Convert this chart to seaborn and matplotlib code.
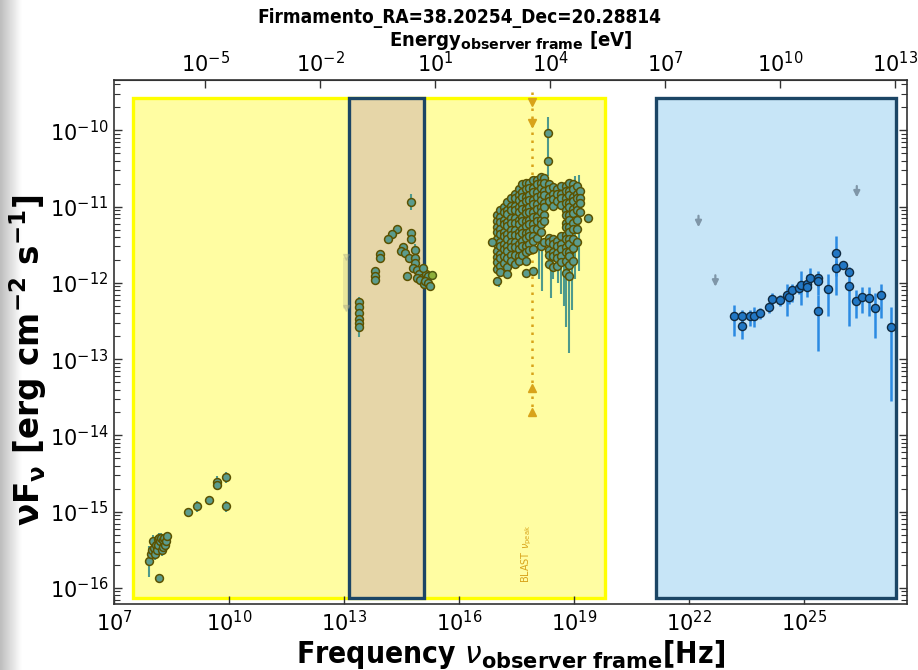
import numpy as np
import pandas as pd
import matplotlib
matplotlib.use("Agg")
import matplotlib.pyplot as plt
from matplotlib.patches import Rectangle
from matplotlib.ticker import FixedLocator, NullLocator, LogLocator, LogFormatterMathtext
import seaborn as sns

sns.set_style("ticks")
plt.rcParams["font.family"] = ["DejaVu Sans"]
plt.rcParams["mathtext.fontset"] = "dejavusans"
plt.rcParams["text.color"] = "black"
plt.rcParams["axes.labelcolor"] = "black"
plt.rcParams["xtick.color"] = "black"
plt.rcParams["ytick.color"] = "black"

H_EV = 4.135667696e-15  # Planck constant [eV s]

TITLE = "Firmamento_RA=38.20254_Dec=20.28814"

# ---------------- data (log10 frequency [Hz], log10 nuFnu [erg cm-2 s-1]) ----------------
radio_lognu = [7.92, 7.96, 8.00, 8.03, 8.05, 8.07, 8.10, 8.11, 8.14, 8.16, 8.18, 8.20, 8.23,
               8.24, 8.27, 8.29, 8.31, 8.33, 8.36, 8.37, 8.17, 8.94, 9.16, 9.48, 9.68, 9.68,
               9.92, 9.92]
radio_logflux = [-15.65, -15.55, -15.50, -15.38, -15.47, -15.55, -15.44, -15.50, -15.36,
                 -15.43, -15.35, -15.39, -15.34, -15.50, -15.46, -15.37, -15.34, -15.44,
                 -15.38, -15.32, -15.87, -15.01, -14.93, -14.85, -14.61, -14.65, -14.55,
                 -14.93]
radio_err = [0.20, 0.06, 0.05, 0.07, 0.05, 0.08, 0.05, 0.06, 0.06, 0.05, 0.07, 0.05, 0.06,
             0.08, 0.05, 0.06, 0.05, 0.07, 0.05, 0.06, 0.03, 0.04, 0.07, 0.04, 0.08, 0.06,
             0.07, 0.07]

ir_lognu = [14.74, 14.38, 14.25, 14.15, 14.74, 14.74, 13.94, 13.94, 13.81, 13.81, 13.81,
            13.40, 13.40, 13.40, 13.40, 13.40, 13.40, 14.53, 14.48, 14.60, 14.69, 14.85,
            14.85, 14.85, 14.81, 14.91, 14.97, 15.03, 14.91, 14.98, 15.09, 15.14, 15.20,
            14.65, 15.06, 15.12, 15.19, 15.24]
ir_logflux = [-10.94, -11.29, -11.36, -11.42, -11.34, -11.42, -11.62, -11.68, -11.85,
              -11.91, -11.96, -12.25, -12.32, -12.40, -12.48, -12.53, -12.58, -11.53,
              -11.58, -11.61, -11.67, -11.57, -11.67, -11.74, -11.80, -11.83, -11.88,
              -11.93, -11.93, -11.96, -12.01, -11.88, -11.91, -11.91, -11.81, -11.97,
              -12.00, -12.04]
ir_err = [0.11, 0.02, 0.02, 0.02, 0.03, 0.03, 0.03, 0.03, 0.02, 0.02, 0.02, 0.07, 0.03,
          0.03, 0.03, 0.05, 0.13, 0.03, 0.03, 0.03, 0.03, 0.08, 0.03, 0.03, 0.03, 0.03,
          0.03, 0.03, 0.03, 0.03, 0.04, 0.03, 0.03, 0.03, 0.03, 0.03, 0.04, 0.04]

uv_lognu = [15.29]
uv_logflux = [-11.90]

ir_limit_lognu = [13.05, 13.05]
ir_limit_logflux = [-11.66, -12.33]

xray_col_lognu = [16.98, 17.07, 17.17, 17.26, 17.37, 17.46, 17.56, 17.65, 17.75, 17.84,
                  17.94, 18.04, 18.13, 18.23, 18.36, 18.46, 18.57, 18.67, 18.78, 18.87,
                  18.97, 19.07, 19.17]
xray_col_logflux = [
    [-11.11, -11.19, -11.27, -11.33, -11.42, -11.49, -11.58, -11.66, -11.73, -11.82, -11.97],
    [-11.04, -11.14, -11.20, -11.30, -11.36, -11.46, -11.52, -11.62, -11.68, -11.78, -11.86],
    [-11.01, -11.07, -11.17, -11.23, -11.33, -11.39, -11.49, -11.55, -11.65, -11.74],
    [-10.94, -11.04, -11.10, -11.20, -11.26, -11.36, -11.42, -11.52, -11.58, -11.68, -11.79, -11.89],
    [-10.89, -10.99, -11.05, -11.15, -11.21, -11.31, -11.37, -11.47, -11.53, -11.63, -11.71],
    [-10.83, -10.89, -10.99, -11.05, -11.15, -11.21, -11.31, -11.37, -11.47, -11.53, -11.63, -11.75],
    [-10.77, -10.85, -10.91, -11.01, -11.07, -11.17, -11.23, -11.33, -11.39, -11.49, -11.55, -11.65, -11.71],
    [-10.71, -10.81, -10.87, -10.97, -11.03, -11.13, -11.19, -11.29, -11.35, -11.45, -11.51, -11.63],
    [-10.69, -10.77, -10.87, -10.93, -11.03, -11.09, -11.19, -11.25, -11.35, -11.41, -11.51, -11.59, -11.71, -11.87],
    [-10.69, -10.75, -10.85, -10.91, -11.01, -11.07, -11.17, -11.23, -11.33, -11.39, -11.49, -11.57],
    [-10.65, -10.75, -10.81, -10.91, -10.97, -11.07, -11.13, -11.23, -11.29, -11.39, -11.45, -11.56, -11.84],
    [-10.65, -10.71, -10.81, -10.87, -10.97, -11.03, -11.13, -11.19, -11.29, -11.41],
    [-10.61, -10.69, -10.75, -10.85, -10.91, -11.01, -11.07, -11.17, -11.23, -11.33, -11.51],
    [-10.63, -10.69, -10.79, -10.85, -10.95, -11.01, -11.11, -11.19, -11.46],
    [-10.71, -10.77, -10.87, -10.93, -11.41, -11.47, -11.57, -11.63, -11.75],
    [-10.74, -10.84, -10.90, -10.99, -11.43, -11.49, -11.59, -11.65, -11.79],
    [-10.77, -10.83, -10.93, -11.45, -11.51, -11.61, -11.67, -11.78],
    [-10.73, -10.83, -10.89, -10.98, -11.39, -11.49, -11.55, -11.65, -11.73],
    [-10.73, -10.79, -10.89, -10.95, -11.05, -11.11, -11.21, -11.27, -11.37, -11.43, -11.53, -11.59, -11.71, -11.87],
    [-10.69, -10.79, -10.85, -10.95, -11.01, -11.11, -11.17, -11.27, -11.33, -11.43, -11.49, -11.59, -11.65, -11.77, -11.91],
    [-10.71, -10.77, -10.87, -10.93, -11.03, -11.09, -11.21, -11.29, -11.43, -11.54, -11.71],
    [-10.73, -10.83, -10.89, -10.99, -11.05, -11.17, -11.29, -11.46],
    [-10.79, -10.89, -10.95, -11.07],
]
xray_extra_lognu = [16.85, 19.37, 18.33, 18.33]
xray_extra_logflux = [-11.47, -11.15, -10.04, -10.40]

# vertical uncertainty ranges of the X-ray spectra
xray_bar_lognu = [18.17, 18.33, 18.40, 18.45, 18.58, 18.65, 18.75, 18.80, 18.87, 18.95,
                  19.02, 19.12, 17.05, 18.10]
xray_bar_top = [-11.53, -9.82, -11.60, -11.60, -11.70, -11.70, -11.70, -11.75, -11.60,
                -11.60, -10.60, -10.58, -11.90, -11.40]
xray_bar_bottom = [-12.11, -10.60, -12.20, -11.95, -12.00, -12.15, -12.30, -12.58, -12.92,
                   -12.36, -11.95, -11.85, -12.05, -11.95]

gamma_lognu = [23.17, 23.38, 23.38, 23.60, 23.69, 23.86, 24.08, 24.17, 24.38, 24.56, 24.62,
               24.69, 24.86, 24.93, 25.08, 25.08, 25.17, 25.38, 25.38, 25.38, 25.62, 25.85,
               25.85, 26.02, 26.18, 26.18, 26.36, 26.51, 26.69, 26.85, 27.02, 27.27]
gamma_logflux = [-12.44, -12.43, -12.56, -12.44, -12.43, -12.39, -12.32, -12.21, -12.22,
                 -12.16, -12.18, -12.09, -12.07, -12.03, -12.02, -12.06, -11.93, -11.93,
                 -11.97, -12.37, -12.08, -11.61, -11.80, -11.76, -11.86, -12.04, -12.24,
                 -12.19, -12.20, -12.33, -12.16, -12.58]
gamma_logflux_lo = [-12.69, -12.51, -12.74, -12.57, -12.58, -12.47, -12.40, -12.30, -12.30,
                    -12.44, -12.28, -12.25, -12.15, -12.29, -12.19, -12.12, -12.05, -12.16,
                    -12.05, -12.89, -12.44, -12.16, -11.91, -11.82, -12.57, -12.10, -12.46,
                    -12.39, -12.44, -12.72, -12.46, -13.55]
gamma_logflux_hi = [-12.29, -12.36, -12.44, -12.36, -12.32, -12.33, -12.25, -12.13, -12.16,
                    -12.01, -12.10, -12.01, -12.00, -11.85, -11.90, -12.00, -11.80, -11.85,
                    -11.90, -12.16, -11.89, -11.38, -11.70, -11.71, -11.79, -11.98, -12.09,
                    -12.06, -12.06, -12.13, -12.01, -12.31]

gamma_limit_lognu = [22.25, 22.69, 26.38]
gamma_limit_logflux = [-11.12, -11.90, -10.73]

blast_peak_lognu = 17.90
blast_upper_logflux = [-9.63, -9.91]
blast_lower_logflux = [-13.38, -13.69]
blast_line_logflux = [-9.50, -13.80]

# shaded bands (log10 frequency edges)
band_logflux = [-16.13, -9.57]
band_lowenergy_lognu = [7.50, 19.82]
band_optical_lognu = [13.12, 15.10]
band_gamma_lognu = [21.13, 27.41]

xtick_exp = [7, 10, 13, 16, 19, 22, 25]
energy_tick_exp = [-5, -2, 1, 4, 7, 10, 13]
ytick_exp = [-16, -15, -14, -13, -12, -11, -10]

# ---------------- figure ----------------
fig = plt.figure(figsize=(9.18, 6.70), dpi=100)
fig.patch.set_facecolor("white")

# soft grey shade at the left border
strip = fig.add_axes([0, 0, 22 / 918, 1], zorder=-5)
shade = np.linspace(0.74, 1.0, 64)[None, :]
strip.imshow(np.repeat(shade, 2, axis=0), cmap="gray", vmin=0, vmax=1, aspect="auto")
strip.axis("off")

ax = fig.add_axes([114 / 918, 66 / 670, 793 / 918, 524 / 670])
ax.set_xscale("log")
ax.set_yscale("log")
ax.set_xlim(1e7, 10 ** 27.69)
ax.set_ylim(10 ** -16.21, 10 ** -9.34)


def p10(v):
    return np.power(10.0, np.asarray(v, dtype=float))


def band(lognu, face, edge, z):
    x0, x1 = p10(lognu)
    y0, y1 = p10(band_logflux)
    ax.add_patch(Rectangle((x0, y0), x1 - x0, y1 - y0, facecolor=face, edgecolor=edge,
                           linewidth=2.4, zorder=z))


band(band_lowenergy_lognu, "#fffda2", "#ffff00", 0.5)
band(band_optical_lognu, "#e6d6a8", "#1b4565", 0.6)
band(band_gamma_lognu, "#c7e5f7", "#1b4565", 0.6)

teal = "#5b9c8e"
teal_bar = "#4e9a8c"
olive = "#5c5200"

# radio
ax.errorbar(p10(radio_lognu), p10(radio_logflux),
            yerr=[p10(radio_logflux) - p10(np.subtract(radio_logflux, radio_err)),
                  p10(np.add(radio_logflux, radio_err)) - p10(radio_logflux)],
            fmt="none", ecolor=teal_bar, elinewidth=1.5, zorder=2)
# IR / optical
ax.errorbar(p10(ir_lognu), p10(ir_logflux),
            yerr=[p10(ir_logflux) - p10(np.subtract(ir_logflux, ir_err)),
                  p10(np.add(ir_logflux, ir_err)) - p10(ir_logflux)],
            fmt="none", ecolor=teal_bar, elinewidth=1.5, zorder=2)
# X-ray spectra ranges
ax.vlines(p10(xray_bar_lognu), p10(xray_bar_bottom), p10(xray_bar_top),
          colors=teal_bar, linewidth=1.5, zorder=2)

# faint upper limits behind the optical band
ax.vlines(p10(ir_limit_lognu[:1]), p10(ir_limit_logflux[1:]), p10(ir_limit_logflux[:1]),
          colors="#a8a888", linewidth=5, alpha=0.25, zorder=1.9)
ax.plot(p10(ir_limit_lognu), p10(ir_limit_logflux), "v", color="#a8a888", ms=5,
        alpha=0.35, zorder=1.9)

xray_nu, xray_flux = [], []
for nu, col in zip(xray_col_lognu, xray_col_logflux):
    xray_nu += [nu] * len(col)
    xray_flux += col
xray_nu += xray_extra_lognu
xray_flux += xray_extra_logflux

low_df = pd.DataFrame({
    "nu": p10(radio_lognu + ir_lognu + xray_nu),
    "flux": p10(radio_logflux + ir_logflux + xray_flux),
})
sns.scatterplot(data=low_df, x="nu", y="flux", ax=ax, s=32, color=teal,
                edgecolor=olive, linewidth=1.1, zorder=3, legend=False)
sns.scatterplot(x=p10(uv_lognu), y=p10(uv_logflux), ax=ax, s=32, color="#8db03a",
                edgecolor="#4f5a10", linewidth=1.1, zorder=3, legend=False)

# gamma rays
gx = p10(gamma_lognu)
gy = p10(gamma_logflux)
ax.errorbar(gx, gy, yerr=[gy - p10(gamma_logflux_lo), p10(gamma_logflux_hi) - gy],
            fmt="none", ecolor="#2b8ae2", elinewidth=1.8, zorder=2)
sns.scatterplot(x=gx, y=gy, ax=ax, s=34, color="#2277c4", edgecolor="#102a40",
                linewidth=1.0, zorder=3, legend=False)
for nu, f in zip(gamma_limit_lognu, gamma_limit_logflux):
    ax.annotate("", xy=(10 ** nu, 10 ** (f - 0.15)), xytext=(10 ** nu, 10 ** f),
                arrowprops=dict(arrowstyle="-|>", color="#7f96a8", lw=1.6,
                                mutation_scale=9, shrinkA=0, shrinkB=0), zorder=3)

# synchrotron peak estimate
gold = "#d8a31a"
ax.plot([10 ** blast_peak_lognu] * 2, p10(blast_line_logflux), linestyle=(0, (1, 2.2)),
        color=gold, lw=1.8, zorder=2.5)
ax.plot([10 ** blast_peak_lognu] * 2, p10(blast_upper_logflux), "v", color=gold, ms=6,
        zorder=2.6)
ax.plot([10 ** blast_peak_lognu] * 2, p10(blast_lower_logflux), "^", color=gold, ms=6,
        zorder=2.6)
ax.text(10 ** 17.76, 10 ** -15.93, r"BLAST $\nu_{\rm peak}$", rotation=90, color=gold,
        fontsize=7, ha="center", va="bottom", zorder=2.6)

# axes styling
for sp in ax.spines.values():
    sp.set_color("#333333")
    sp.set_linewidth(1.2)
ax.xaxis.set_major_locator(FixedLocator(p10(xtick_exp)))
ax.xaxis.set_major_formatter(LogFormatterMathtext())
ax.xaxis.set_minor_locator(NullLocator())
ax.yaxis.set_major_locator(FixedLocator(p10(ytick_exp)))
ax.yaxis.set_major_formatter(LogFormatterMathtext())
ax.yaxis.set_minor_locator(LogLocator(base=10, subs=np.arange(2, 10), numticks=30))
ax.tick_params(which="both", direction="in", right=True, top=False, colors="#333333",
               labelcolor="black")
ax.tick_params(which="major", length=6, width=1.0, labelsize=15, pad=4)
ax.tick_params(which="minor", length=4, width=0.8)

sec = ax.secondary_xaxis("top", functions=(lambda nu: nu * H_EV, lambda e: e / H_EV))
sec.xaxis.set_major_locator(FixedLocator(p10(energy_tick_exp)))
sec.xaxis.set_major_formatter(LogFormatterMathtext())
sec.xaxis.set_minor_locator(NullLocator())
sec.tick_params(which="major", direction="in", length=6, width=1.0, labelsize=15, pad=3,
                colors="#333333", labelcolor="black")
sec.spines["top"].set_color("#333333")

ax.set_xlabel(r"Frequency $\nu_{\mathbf{observer\ frame}}$[Hz]", fontsize=21.5,
              fontweight="bold", fontstretch="condensed")
ax.xaxis.set_label_coords(0.5, -0.064)
ax.set_ylabel(r"$\mathbf{\nu F_{\nu}}$ [erg cm$^{\mathbf{-2}}$ s$^{\mathbf{-1}}$]",
              fontsize=23.5, fontweight="bold")
ax.yaxis.set_label_coords(-0.082, 0.466)

fig.text(510.5 / 918, 1 - 41 / 670, r"Energy$_{\mathbf{observer\ frame}}$ [eV]",
         fontsize=14.5, fontweight="bold", fontstretch="condensed",
         ha="center", va="center")
fig.suptitle(TITLE, x=0.5, y=1 - 18 / 670, fontsize=13.7, fontweight="bold",
             fontstretch="condensed", ha="center", va="center")

fig.savefig("out.png", dpi=100)
